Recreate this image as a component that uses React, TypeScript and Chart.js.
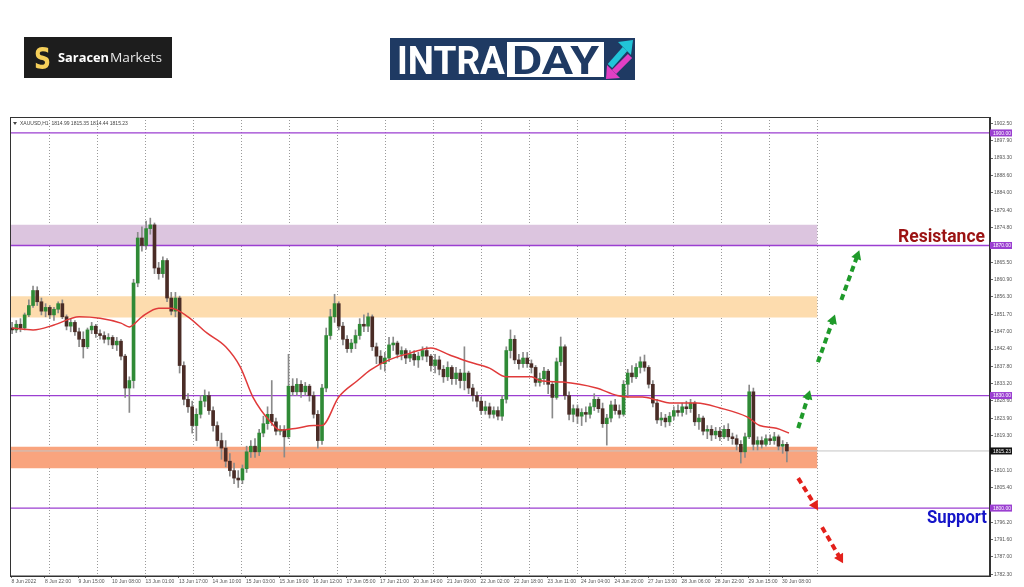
import React, { useEffect, useRef } from 'react';
import { Chart, registerables } from 'chart.js';

Chart.register(...registerables);

// ---------- data (2-hour candles) ----------
const opens = [
  1848, 1847.5, 1849, 1848, 1851.5, 1854, 1858, 1855, 1852.5, 1853.5,
  1851.5, 1853, 1854.5, 1851, 1848.5, 1849.5, 1847, 1845, 1843, 1847.5,
  1848.5, 1846.5, 1846, 1845, 1845.5, 1843.5, 1844.5, 1840.5, 1832, 1834,
  1860, 1872, 1870, 1874.5, 1875.5, 1864, 1862.5, 1866, 1856, 1852.5,
  1856, 1838, 1829, 1827, 1822, 1825, 1828.5, 1830, 1826, 1822,
  1818, 1816, 1812.5, 1810, 1808, 1807.5, 1810.5, 1815, 1816.5, 1815,
  1820, 1822.5, 1825, 1823, 1820.5, 1821, 1819, 1832.5, 1831, 1833,
  1831, 1832.5, 1830, 1825, 1818, 1832, 1846, 1851, 1854.5, 1848.5,
  1845, 1842.5, 1844, 1846, 1849, 1848.5, 1851, 1843, 1840.5, 1838.5,
  1840, 1843.5, 1844, 1841, 1842, 1840, 1841, 1839.5, 1840.5, 1842,
  1840.5, 1838, 1839.5, 1837, 1835, 1837.5, 1834.5, 1836, 1834, 1836,
  1832, 1830, 1828.5, 1826, 1827, 1825, 1826, 1824.5, 1829, 1842,
  1845, 1839.5, 1838.5, 1840, 1838.5, 1837.5, 1833.5, 1834.5, 1836.5, 1833,
  1829.5, 1839, 1843, 1830, 1825, 1826.5, 1824.5, 1825.5, 1825, 1827,
  1829, 1826.5, 1822.5, 1824, 1827.5, 1826, 1825, 1833, 1836, 1835,
  1837.5, 1839, 1837.5, 1833, 1828, 1823.5, 1824, 1823, 1824.5, 1826,
  1825.5, 1827, 1826.5, 1828, 1823, 1824, 1820.5, 1821, 1819.5, 1820.5,
  1819, 1821, 1819, 1818.5, 1817, 1815, 1819, 1831, 1817, 1818,
  1817, 1818.5, 1818, 1819, 1816.5, 1817,
];
const highs = [
  1849.5, 1850, 1850.5, 1852, 1855.5, 1859.2, 1859, 1856, 1854.5, 1854,
  1853.5, 1855, 1855.5, 1851.5, 1850.5, 1850, 1848, 1847, 1848, 1849.5,
  1849, 1847.5, 1847, 1846.5, 1846, 1845.5, 1845, 1841, 1835, 1861,
  1873.5, 1875, 1876.5, 1877.3, 1876, 1865.5, 1867, 1866.5, 1857.5, 1857.5,
  1856.5, 1839, 1830.5, 1828.5, 1826.5, 1830, 1831.5, 1831, 1827, 1823,
  1820, 1818, 1814.5, 1812, 1810, 1811.5, 1816.5, 1818, 1818.5, 1821,
  1824.5, 1827, 1834, 1824, 1822, 1822, 1841, 1834.5, 1834.5, 1834,
  1833.5, 1833, 1831, 1826, 1833, 1848, 1853, 1857, 1855, 1849.5,
  1846, 1845, 1847.5, 1850.5, 1851.5, 1852, 1851.5, 1844, 1842, 1841.5,
  1845.5, 1845.6, 1844.5, 1843, 1842.5, 1842, 1842, 1841.5, 1843, 1843,
  1841, 1841, 1840.5, 1838, 1839, 1838, 1837.5, 1837, 1843, 1836.5,
  1833, 1831, 1829.5, 1828.5, 1828, 1827, 1827, 1830, 1843, 1847.5,
  1846, 1841, 1841.5, 1841.5, 1839.5, 1838, 1836, 1837.5, 1837, 1833.5,
  1840, 1845.6, 1843.5, 1831, 1827.5, 1827.5, 1826.5, 1827, 1828, 1830.5,
  1829.5, 1828, 1825, 1828.5, 1829, 1827.5, 1834, 1837, 1838, 1838.5,
  1840.3, 1840.8, 1838, 1834, 1829, 1825.5, 1825, 1825.5, 1827, 1827.5,
  1828, 1828.5, 1829, 1828.5, 1825, 1824.5, 1822, 1822, 1821.5, 1821.5,
  1822, 1822.5, 1820, 1819.5, 1818, 1820, 1832.8, 1832, 1819, 1819,
  1819.5, 1819.5, 1820.2, 1819.5, 1818, 1817.5,
];
const lows = [
  1846.5, 1846.8, 1847, 1847.5, 1851, 1853.5, 1854, 1851.5, 1851, 1850.5,
  1850, 1852, 1850.5, 1847.5, 1847, 1846, 1843, 1840, 1842.5, 1846.5,
  1845.5, 1845, 1844, 1843.5, 1842.5, 1842, 1839.5, 1829.5, 1825.5, 1832,
  1859, 1868.5, 1869, 1873, 1862.5, 1861, 1861.5, 1855, 1851.5, 1851,
  1836, 1827.5, 1825.5, 1820, 1818, 1824, 1827, 1825, 1820.5, 1816.5,
  1813, 1811, 1808.5, 1806.5, 1805.5, 1806.5, 1809.5, 1813.5, 1813.5, 1814,
  1819, 1821, 1822, 1819.5, 1819.5, 1813.6, 1818.5, 1830, 1830, 1829.5,
  1830, 1828.5, 1824, 1816, 1817, 1831, 1845, 1849.5, 1847.5, 1843.5,
  1841.5, 1841.5, 1842.5, 1845, 1847, 1847, 1842, 1838.5, 1837, 1836.5,
  1839, 1842, 1840, 1839.5, 1838.5, 1839, 1838, 1837.5, 1839.5, 1839,
  1836.5, 1836, 1835.5, 1833.5, 1834, 1833, 1833, 1832, 1831.5, 1830.5,
  1828.5, 1827, 1825, 1825, 1824, 1824, 1823.5, 1823.4, 1828, 1840,
  1838.5, 1837, 1837.5, 1837.5, 1836, 1832.5, 1832.5, 1833, 1830.5, 1824,
  1829, 1838, 1829, 1823.5, 1823, 1822.5, 1822, 1823, 1824, 1826,
  1825.5, 1821.5, 1816.8, 1823, 1825, 1824, 1824.5, 1829.5, 1833.5, 1834.5,
  1836, 1836.5, 1832, 1827, 1822.6, 1822, 1821.6, 1822, 1823.5, 1824.5,
  1824.5, 1825, 1825.5, 1822, 1821, 1819.5, 1818.5, 1818, 1818.5, 1818,
  1818.5, 1818, 1817, 1815.5, 1812, 1813.5, 1818.5, 1815.5, 1815.5, 1816,
  1816.5, 1817, 1817, 1815.5, 1814.6, 1812.3,
];
const closes = [
  1847.5, 1849, 1848, 1851.5, 1854, 1858, 1855, 1852.5, 1853.5, 1851.5,
  1853, 1854.5, 1851, 1848.5, 1849.5, 1847, 1845, 1843, 1847.5, 1848.5,
  1846.5, 1846, 1845, 1845.5, 1843.5, 1844.5, 1840.5, 1832, 1834, 1860,
  1872, 1870, 1874.5, 1875.5, 1864, 1862.5, 1866, 1856, 1852.5, 1856,
  1838, 1829, 1827, 1822, 1825, 1828.5, 1830, 1826, 1822, 1818,
  1816, 1812.5, 1810, 1808, 1807.5, 1810.5, 1815, 1816.5, 1815, 1820,
  1822.5, 1825, 1823, 1820.5, 1821, 1819, 1832.5, 1831, 1833, 1831,
  1832.5, 1830, 1825, 1818, 1832, 1846, 1851, 1854.5, 1848.5, 1845,
  1842.5, 1844, 1846, 1849, 1848.5, 1851, 1843, 1840.5, 1838.5, 1840,
  1843.5, 1844, 1841, 1842, 1840, 1841, 1839.5, 1840.5, 1842, 1840.5,
  1838, 1839.5, 1837, 1835, 1837.5, 1834.5, 1836, 1834, 1836, 1832,
  1830, 1828.5, 1826, 1827, 1825, 1826, 1824.5, 1829, 1842, 1845,
  1839.5, 1838.5, 1840, 1838.5, 1837.5, 1833.5, 1834.5, 1836.5, 1833, 1829.5,
  1839, 1843, 1830, 1825, 1826.5, 1824.5, 1825.5, 1825, 1827, 1829,
  1826.5, 1822.5, 1824, 1827.5, 1826, 1825, 1833, 1836, 1835, 1837.5,
  1839, 1837.5, 1833, 1828, 1823.5, 1824, 1823, 1824.5, 1826, 1825.5,
  1827, 1826.5, 1828, 1823, 1824, 1820.5, 1821, 1819.5, 1820.5, 1819,
  1821, 1819, 1818.5, 1817, 1815, 1819, 1831, 1817, 1818, 1817,
  1818.5, 1818, 1819, 1816.5, 1817, 1815.23,
];

// moving average (red line) read at candle positions
const maIndex = [0, 5, 10, 16, 21, 26, 28, 31, 35, 38, 42, 46.5, 51, 54.5, 57.5, 62, 64, 68, 72, 74, 78, 82.5, 85.5, 90, 95, 100, 104.5, 109, 114, 118, 124, 126, 131.5, 139.5, 144.5, 147.5, 150.5, 154, 157, 163.5, 169, 175.5, 178.5, 182.5, 185.5];
const maValue = [1848, 1847.5, 1848.8, 1851, 1850.6, 1849.3, 1848.3, 1851, 1853.3, 1853.3, 1851, 1846.7, 1843, 1837.6, 1829.6, 1822.6, 1820.8, 1821.3, 1822, 1822, 1829.6, 1834, 1836.8, 1839.5, 1841.3, 1842.7, 1840.8, 1839, 1837.3, 1835, 1835, 1834, 1833.6, 1832, 1830, 1829.6, 1829.6, 1828.8, 1828, 1828, 1826.7, 1824.3, 1822, 1821.3, 1820];

const levelValues = [1900, 1870, 1830, 1800];
const zoneBottoms = [1870, 1850.8, 1810.6];
const zoneTops = [1875.5, 1856.5, 1816.35];
const lastPrice = 1815.23;

const yTickValues = [1902.5, 1897.9, 1893.3, 1888.6, 1884.0, 1879.4, 1874.8, 1865.5, 1860.9, 1856.3, 1851.7, 1847.0, 1842.4, 1837.8, 1833.2, 1828.6, 1823.9, 1819.3, 1810.1, 1805.4, 1796.2, 1791.6, 1787.0, 1782.3];
const xTickLabels = ['8 Jun 2022', '8 Jun 22:00', '9 Jun 15:00', '10 Jun 08:00', '13 Jun 01:00', '13 Jun 17:00', '14 Jun 10:00', '15 Jun 03:00', '15 Jun 19:00', '16 Jun 12:00', '17 Jun 05:00', '17 Jun 21:00', '20 Jun 14:00', '21 Jun 09:00', '22 Jun 02:00', '22 Jun 18:00', '23 Jun 11:00', '24 Jun 04:00', '24 Jun 20:00', '27 Jun 13:00', '28 Jun 06:00', '28 Jun 22:00', '29 Jun 15:00', '30 Jun 08:00'];

const upArrowFrom = [[187.7, 1821.3], [192.4, 1838.9], [198.0, 1855.5]];
const upArrowTo = [[190.1, 1829.9], [196.0, 1850.1], [201.8, 1867.2]];
const downArrowFrom = [[187.7, 1808.0], [193.4, 1794.9]];
const downArrowTo = [[191.7, 1800.8], [197.7, 1786.7]];

const symbolText = 'XAUUSD,H1  1814.99 1815.35 1814.44 1815.23';

// ---------- layout / style ----------
const X_MIN = -0.5, X_MAX = 233.5, Y_MIN = 1781.9, Y_MAX = 1904.25;
const ZONE_END = 192.3;
const GRID_START = 8.885, GRID_STEP = 11.463, GRID_COUNT = 17;
const LABEL_STEP = 8, LABEL_SHIFT = -0.15;
const LEVEL_COLOR = '#9b3fd1';
const ZONE_COLORS = ['#dcc5df', '#fddcae', '#f9a47e'];
const BULL = '#2f8a36';
const BEAR = '#4a2c26';
const WICK = '#8a8a8a';
const UP_ROT = [17, 20, 20];
const DOWN_ROT = [148, 150];

function fitText(ctx: CanvasRenderingContext2D, text: string, x: number, y: number, width: number, align: CanvasTextAlign) {
  const w = ctx.measureText(text).width;
  ctx.save();
  ctx.translate(x, y);
  ctx.scale(width / w, 1);
  ctx.textAlign = align;
  ctx.fillText(text, 0, 0);
  ctx.restore();
}

const decorPlugin = {
  id: 'decor',
  beforeDraw(chart: any) {
    const ctx: CanvasRenderingContext2D = chart.ctx;
    ctx.save();
    ctx.fillStyle = '#ffffff';
    ctx.fillRect(0, 0, chart.width, chart.height);
    ctx.textBaseline = 'alphabetic';

    // Saracen Markets logo
    ctx.fillStyle = '#1d1d1d';
    ctx.fillRect(24, 37, 148, 41);
    const g = ctx.createLinearGradient(34, 42, 50, 73);
    g.addColorStop(0, '#f5cf5a');
    g.addColorStop(0.5, '#c8901e');
    g.addColorStop(1, '#e8b840');
    ctx.fillStyle = g;
    ctx.font = 'bold 30px "DejaVu Sans"';
    fitText(ctx, 'S', 34, 69, 17, 'left');
    ctx.fillStyle = '#ffffff';
    ctx.font = 'bold 13px "Open Sans"';
    fitText(ctx, 'Saracen', 58, 62, 51, 'left');
    ctx.fillStyle = '#e8e8e8';
    ctx.font = '13px "Open Sans"';
    fitText(ctx, 'Markets', 110, 62, 52, 'left');

    // INTRADAY logo
    const navy = '#1f3a63';
    ctx.fillStyle = navy;
    ctx.fillRect(390, 38, 245, 42);
    ctx.fillStyle = '#ffffff';
    ctx.font = 'bold 39px Roboto';
    fitText(ctx, 'INTRA', 397, 74, 108, 'left');
    ctx.fillRect(507, 42, 97, 35);
    ctx.fillStyle = navy;
    fitText(ctx, 'DAY', 512, 74, 87, 'left');
    // arrow icon
    ctx.lineCap = 'butt';
    ctx.strokeStyle = '#21c4d8';
    ctx.lineWidth = 6;
    ctx.beginPath(); ctx.moveTo(610, 66); ctx.lineTo(625, 49); ctx.stroke();
    ctx.fillStyle = '#21c4d8';
    ctx.beginPath(); ctx.moveTo(633, 40); ctx.lineTo(618, 42); ctx.lineTo(631, 55); ctx.closePath(); ctx.fill();
    ctx.strokeStyle = '#e23fc4';
    ctx.fillStyle = '#e23fc4';
    ctx.beginPath(); ctx.moveTo(630, 56); ctx.lineTo(614, 72); ctx.stroke();
    ctx.beginPath(); ctx.moveTo(606, 79); ctx.lineTo(607, 65); ctx.lineTo(620, 78); ctx.closePath(); ctx.fill();
    ctx.restore();
  },
  afterDraw(chart: any) {
    const ctx: CanvasRenderingContext2D = chart.ctx;
    const a = chart.chartArea;
    const y = chart.scales.y;
    ctx.save();
    // frame
    ctx.strokeStyle = '#333';
    ctx.lineWidth = 1;
    ctx.strokeRect(a.left + 0.5, a.top + 0.5, a.right - a.left - 1, a.bottom - a.top - 0.5);

    // symbol line
    ctx.fillStyle = '#444';
    ctx.font = '5px "Liberation Sans"';
    ctx.textBaseline = 'middle';
    ctx.textAlign = 'left';
    ctx.beginPath(); ctx.moveTo(13, 122); ctx.lineTo(17, 122); ctx.lineTo(15, 125); ctx.closePath(); ctx.fill();
    ctx.fillText(symbolText, 20, 123.5);

    // highlighted price labels
    const box = (value: number, color: string) => {
      const py = y.getPixelForValue(value);
      ctx.fillStyle = color;
      ctx.fillRect(a.right, py - 3.5, 22, 7);
      ctx.fillStyle = '#ffffff';
      ctx.font = '5px "Liberation Sans"';
      ctx.textBaseline = 'middle';
      ctx.textAlign = 'left';
      ctx.fillText(value.toFixed(2), a.right + 3, py + 0.3);
    };
    levelValues.forEach((v) => box(v, LEVEL_COLOR));
    box(lastPrice, '#111111');

    // Resistance / Support captions
    ctx.textBaseline = 'alphabetic';
    ctx.font = 'bold 18px Roboto';
    ctx.fillStyle = '#9b1212';
    fitText(ctx, 'Resistance', a.right - 5, y.getPixelForValue(levelValues[1]) - 3.5, 87, 'right');
    ctx.fillStyle = '#1414c8';
    fitText(ctx, 'Support', a.right - 3, y.getPixelForValue(levelValues[3]) + 15, 60, 'right');
    ctx.restore();
  },
};

export default function App() {
  const ref = useRef<HTMLCanvasElement | null>(null);

  useEffect(() => {
    document.body.style.margin = '0';
    const canvas = ref.current;
    if (!canvas) return;
    const idx = closes.map((_, i) => i);

    const zoneSets = zoneTops.map((top, k) => ({
      type: 'line',
      data: [{ x: X_MIN, y: top }, { x: ZONE_END, y: top }],
      borderWidth: 0,
      borderColor: 'rgba(0,0,0,0)',
      pointRadius: 0,
      backgroundColor: ZONE_COLORS[k],
      fill: { value: zoneBottoms[k] },
      order: 20,
    }));
    const levelSets = levelValues.map((v) => ({
      type: 'line',
      data: [{ x: X_MIN, y: v }, { x: X_MAX, y: v }],
      borderColor: LEVEL_COLOR,
      borderWidth: 1.3,
      pointRadius: 0,
      fill: false,
      order: 14,
    }));
    const arrowSet = (from: number[], to: number[], color: string, rot: number) => ({
      type: 'line',
      data: [{ x: from[0], y: from[1] }, { x: to[0], y: to[1] }],
      borderColor: color,
      borderWidth: 4,
      borderDash: [6, 4],
      pointRadius: [0, 6],
      pointHoverRadius: 0,
      pointStyle: 'triangle',
      pointRotation: rot,
      pointBackgroundColor: color,
      pointBorderWidth: 0,
      fill: false,
      order: 0,
    });

    const chart = new Chart(canvas, {
      type: 'bar',
      data: {
        datasets: [
          ...zoneSets,
          {
            type: 'line',
            data: [{ x: X_MIN, y: lastPrice }, { x: X_MAX, y: lastPrice }],
            borderColor: '#c4c4c4',
            borderWidth: 1,
            pointRadius: 0,
            fill: false,
            order: 15,
          },
          ...levelSets,
          {
            type: 'bar',
            data: idx.map((i) => ({ x: i, y: [lows[i], highs[i]] })),
            backgroundColor: WICK,
            barThickness: 1,
            grouped: false,
            order: 6,
          },
          {
            type: 'bar',
            data: idx.map((i) => ({ x: i, y: [opens[i], closes[i]] })),
            backgroundColor: idx.map((i) => (closes[i] >= opens[i] ? BULL : BEAR)),
            barThickness: 3,
            minBarLength: 1,
            grouped: false,
            order: 5,
          },
          {
            type: 'line',
            data: maIndex.map((x, k) => ({ x, y: maValue[k] })),
            borderColor: '#e03a3a',
            borderWidth: 1.5,
            pointRadius: 0,
            cubicInterpolationMode: 'monotone',
            fill: false,
            order: 3,
          },
          ...upArrowFrom.map((f, k) => arrowSet(f, upArrowTo[k], '#1f9a2a', UP_ROT[k])),
          ...downArrowFrom.map((f, k) => arrowSet(f, downArrowTo[k], '#e3201b', DOWN_ROT[k])),
        ] as any,
      },
      options: {
        responsive: true,
        maintainAspectRatio: false,
        animation: false,
        events: [],
        layout: { padding: { left: 10, top: 117, right: 0, bottom: 0 } },
        plugins: { legend: { display: false }, tooltip: { enabled: false }, title: { display: false } },
        scales: {
          x: {
            type: 'linear',
            position: 'bottom',
            min: X_MIN,
            max: X_MAX,
            offset: false,
            afterBuildTicks: (s: any) => { s.ticks = xTickLabels.map((_, k) => ({ value: LABEL_STEP * k + LABEL_SHIFT })); },
            afterFit: (s: any) => { s.height = 11; },
            ticks: {
              autoSkip: false,
              maxRotation: 0,
              minRotation: 0,
              align: 'start',
              padding: 1,
              color: '#555',
              font: { size: 5, family: '"Liberation Sans"' },
              callback: (_v: any, i: number) => xTickLabels[i],
            },
            grid: { display: true, drawOnChartArea: false, drawTicks: true, tickLength: 2, color: '#666', offset: false },
            border: { display: true, color: '#333' },
          },
          xg: {
            type: 'linear',
            position: 'bottom',
            min: X_MIN,
            max: X_MAX,
            offset: false,
            afterBuildTicks: (s: any) => { s.ticks = Array.from({ length: GRID_COUNT }, (_, k) => ({ value: GRID_START + GRID_STEP * k })); },
            afterFit: (s: any) => { s.height = 0; },
            ticks: { display: false },
            grid: { display: true, drawOnChartArea: true, drawTicks: false, color: '#9a9a9a', lineWidth: 1, offset: false },
            border: { display: false, dash: [1, 2] },
          },
          y: {
            type: 'linear',
            position: 'right',
            min: Y_MIN,
            max: Y_MAX,
            afterBuildTicks: (s: any) => { s.ticks = yTickValues.map((v) => ({ value: v })); },
            afterFit: (s: any) => { s.width = 34; },
            ticks: {
              autoSkip: false,
              padding: 1,
              color: '#555',
              font: { size: 5, family: '"Liberation Sans"' },
              callback: (v: any) => Number(v).toFixed(2),
            },
            grid: { display: true, drawOnChartArea: false, drawTicks: true, tickLength: 3, color: '#666' },
            border: { display: true, color: '#333' },
          },
        },
      } as any,
      plugins: [decorPlugin],
    });
    return () => chart.destroy();
  }, []);

  return (
    <div style={{ position: 'absolute', left: 0, top: 0, width: 1024, height: 587 }}>
      <canvas ref={ref} />
    </div>
  );
}
